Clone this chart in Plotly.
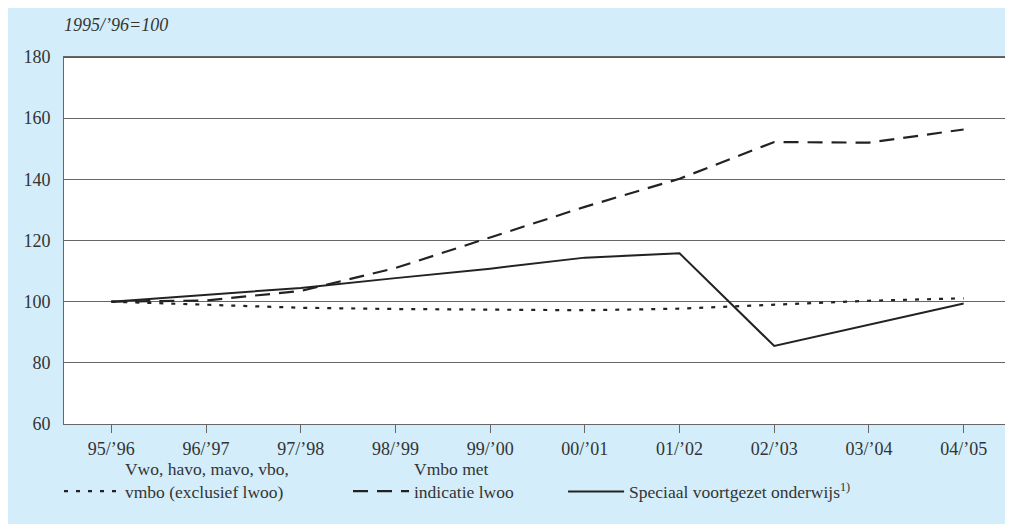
import plotly.graph_objects as go

# schooljaren en indexcijfers (1995/'96 = 100)
jaren = ["95/’96", "96/’97", "97/’98", "98/’99", "99/’00",
         "00/’01", "01/’02", "02/’03", "03/’04", "04/’05"]
regulier = [100, 99.0, 98.0, 97.6, 97.5, 97.2, 97.7, 99.1, 100.3, 101.1]
lwoo = [100, 100.4, 103.5, 111, 121, 131, 140.2, 152.2, 152, 156.3]
speciaal = [100, 102.2, 104.5, 107.7, 110.8, 114.4, 115.8, 85.5, 92.5, 99.4]

BLUE = "#d3eefa"
FONT = "Liberation Serif"

fig = go.Figure()

fig.add_trace(go.Scatter(x=jaren, y=regulier, mode="lines",
                         name="Vwo, havo, mavo, vbo,<br>vmbo (exclusief lwoo)",
                         line=dict(color="#222", width=2.2, dash="4px,8px"),
                         legend="legend"))
fig.add_trace(go.Scatter(x=jaren, y=lwoo, mode="lines",
                         name="Vmbo met<br>indicatie lwoo",
                         line=dict(color="#222", width=2.2, dash="15px,9px"),
                         legend="legend2"))
fig.add_trace(go.Scatter(x=jaren, y=speciaal, mode="lines",
                         name="Speciaal voortgezet onderwijs<sup>1)</sup>",
                         line=dict(color="#222", width=2),
                         legend="legend3"))

# dikke lijn op het basisniveau 100
fig.add_hline(y=100, line=dict(color="#333", width=2), layer="below")

legend_style = dict(orientation="h", yanchor="bottom", y=-0.233, xanchor="left",
                    valign="bottom", bgcolor="rgba(0,0,0,0)",
                    font=dict(family=FONT, size=17.5, color="#333"),
                    itemwidth=56)

fig.update_layout(
    width=1005, height=516,
    margin=dict(l=56, r=2, t=49, b=100),
    paper_bgcolor=BLUE,
    plot_bgcolor="white",
    showlegend=True,
    font=dict(family=FONT, size=17, color="#333"),
    legend=dict(legend_style, x=-0.0053),
    legend2=dict(legend_style, x=0.2999),
    legend3=dict(legend_style, x=0.527),
    xaxis=dict(range=[-0.5, 9.5], showgrid=False, ticks="outside", ticklen=8,
               tickcolor="#666", showline=True, linecolor="#666", mirror=True,
               tickfont=dict(family=FONT, size=18, color="#333")),
    yaxis=dict(range=[60, 180], dtick=20, showgrid=True, gridcolor="#666",
               gridwidth=1, zeroline=False, showline=True, linecolor="#666",
               mirror=True, ticks="", ticklabelstandoff=9,
               tickfont=dict(family=FONT, size=18, color="#333")),
    shapes=[
        dict(type="line", xref="paper", yref="paper", x0=0, x1=1,
             y0=1.0, y1=1.0, line=dict(color="#222", width=1.5)),
    ],
    annotations=[
        dict(text="<i>1995/’96=100</i>", xref="paper", yref="paper",
             x=0.0, y=1.0, xshift=-2, yshift=32, xanchor="left", yanchor="middle",
             showarrow=False, font=dict(family=FONT, size=18, color="#333")),
    ],
)

fig.write_html("out.html")
